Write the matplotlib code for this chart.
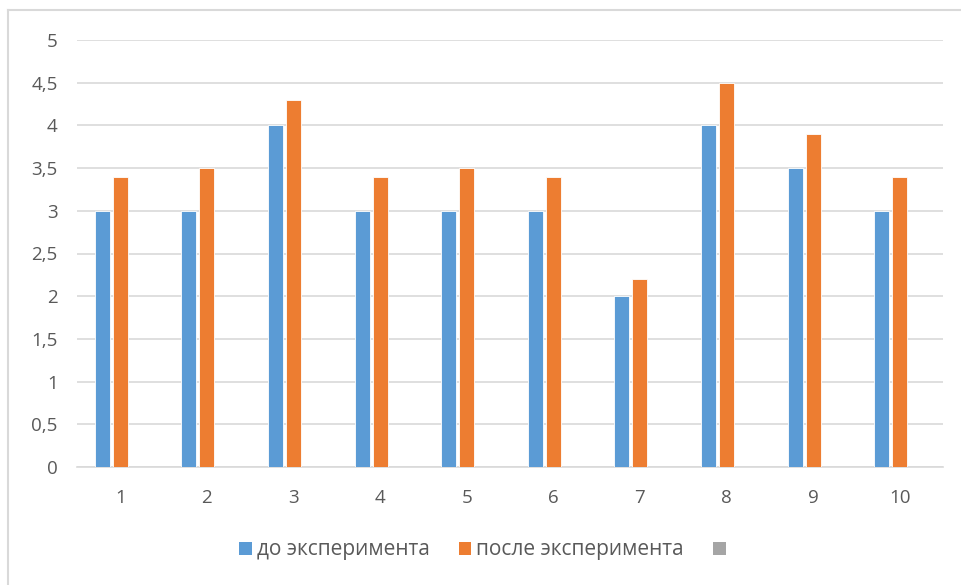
import matplotlib
matplotlib.use("Agg")
import matplotlib.pyplot as plt
from matplotlib.patches import Patch
from matplotlib.lines import Line2D
import numpy as np

plt.rcParams['font.family'] = ['Open Sans', 'DejaVu Sans']

categories = ['1', '2', '3', '4', '5', '6', '7', '8', '9', '10']
before = [3, 3, 4, 3, 3, 3, 2, 4, 3.5, 3]
after = [3.4, 3.5, 4.3, 3.4, 3.5, 3.4, 2.2, 4.5, 3.9, 3.4]
third = [0] * 10
series_names = ['до эксперимента', 'после эксперимента', '']
yticks = [0, 0.5, 1, 1.5, 2, 2.5, 3, 3.5, 4, 4.5, 5]
ytick_labels = ['0', '0,5', '1', '1,5', '2', '2,5', '3', '3,5', '4', '4,5', '5']

blue = '#5B9BD5'
orange = '#ED7D31'
gray = '#A5A5A5'
text_c = '#595959'
grid_c = '#D9D9D9'

fig = plt.figure(figsize=(9.61, 5.85), dpi=100)
ax = fig.add_axes([77/961, 1-467/585, (943-77)/961, (467-40)/585])

x = np.arange(len(categories))
w = 0.175
off = 0.208
ax.bar(x - off, before, w, color=blue, edgecolor='white', linewidth=0.6, zorder=3)
ax.bar(x, after, w, color=orange, edgecolor='white', linewidth=0.6, zorder=3)
ax.bar(x + off, third, w, color=gray, zorder=3)

ax.set_xlim(-0.5, len(categories) - 0.5)
ax.set_ylim(0, 5)
ax.set_yticks(yticks)
ax.set_yticklabels(ytick_labels)
ax.set_xticks(x)
ax.set_xticklabels(categories)
ax.tick_params(axis='both', length=0, labelsize=13.5, colors=text_c)
ax.tick_params(axis='y', pad=14)
ax.tick_params(axis='x', pad=16)
ax.yaxis.grid(True, color=grid_c, linewidth=1.2, zorder=0)
ax.set_axisbelow(True)
for s in ['top', 'right', 'left']:
    ax.spines[s].set_visible(False)
ax.spines['bottom'].set_color(grid_c)
ax.spines['bottom'].set_linewidth(1.2)

handles = [Patch(facecolor=blue), Patch(facecolor=orange), Patch(facecolor=gray)]
leg = fig.legend(handles, series_names, loc='center', bbox_to_anchor=(485/961, 1-550/585),
                 ncol=3, frameon=False, fontsize=15, handlelength=0.6, handleheight=0.6,
                 handletextpad=0.25, columnspacing=1.4)
for t in leg.get_texts():
    t.set_color(text_c)

# chart border
fig.add_artist(Line2D([8/961, 8/961], [0, 1-10/585], color=grid_c, linewidth=1.5, transform=fig.transFigure))
fig.add_artist(Line2D([8/961, 1], [1-10/585, 1-10/585], color=grid_c, linewidth=1.5, transform=fig.transFigure))

fig.savefig('out.png', dpi=100)
